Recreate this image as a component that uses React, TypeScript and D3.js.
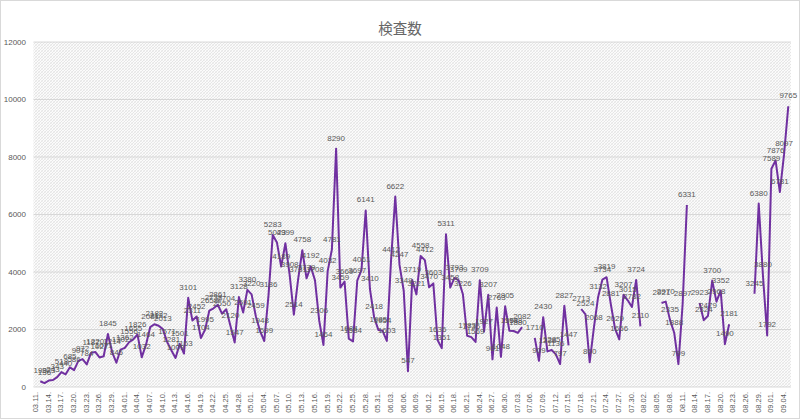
import React, { useEffect, useRef } from "react";
import * as d3 from "d3";

const title = "検査数";

// daily categories 03.11 .. 09.04
const dates = d3
	.timeDay.range(new Date(2020, 2, 11), new Date(2020, 8, 5))
	.map((d) => d3.timeFormat("%m.%d.")(d));

const values: (number | null)[] = [
	199, 136, 223, 243, 343, 518, 440, 685, 586, 907,
	972, 784, 1187, 1220, 1027, 1071, 1845, 1214, 845, 1302,
	1362, 1556, 1655, 1826, 1032, 1464, 2081, 2182, 2132, 2013,
	1571, 1281, 1009, 1501, 1163, 3101, 2311, 2452, 1704, 1995,
	2658, 2738, 2861, 2550, 2704, 2120, 1547, 3128, 2591, 3380,
	3220, 2459, 1948, 1599, 3186, 5283, 5023, 4189, 4999, 3908,
	2514, 3731, 4758, 3779, 4192, 3708, 2306, 1464, 4032, 4781,
	8290, 3459, 3669, 1684, 1584, 3697, 4061, 6141, 3410, 2418,
	1985, 1954, 1603, 4412, 6622, 4247, 3349, 547, 3719, 3221,
	4558, 4412, 3470, 3603, 1636, 1351, 5311, 3458, 3793, 3709,
	3226, 1783, 1736, 1569, 3709, 1927, 3207, 961, 2763, 1048,
	2805, 1958, 1948, 1880, 2082, null, null, 1710, 909, 2430,
	1238, 1285, 1136, 797, 2827, 1447, null, null, 2713, 2524,
	860, 2068, 3132, 3734, 3819, 2881, 2029, 1656, 3207, 3015,
	2782, 3724, 2110, null, null, null, null, 2921, 2970, 2335,
	1888, 799, 2897, 6331, null, null, 2923, 2324, 2479, 3700,
	2968, 3352, 1490, 2181, null, null, null, null, null, 3245,
	6380, 3880, 1792, 7589, 7876, 6781, 8097, 9765,
];

const yTicks = [0, 2000, 4000, 6000, 8000, 10000, 12000];

const W = 800;
const H = 419;
const textColor = "#595959";
const lineColor = "#7030A0";
const font = "'Liberation Sans', Arial, sans-serif";

function App() {
	const svgRef = useRef<SVGSVGElement>(null);

	useEffect(() => {
		const svg = d3.select(svgRef.current);
		svg.selectAll("*").remove();

		const plot = { left: 33.5, right: 791, top: 42, bottom: 387 };

		const x = d3
			.scalePoint<number>()
			.domain(values.map((_, i) => i))
			.range([40.3, 788.3]);

		const y = d3
			.scaleLinear()
			.domain([0, 12000])
			.range([plot.bottom, plot.top]);

		// hatch pattern for plot background
		const defs = svg.append("defs");
		const pat = defs
			.append("pattern")
			.attr("id", "hatch")
			.attr("width", 3)
			.attr("height", 3)
			.attr("patternUnits", "userSpaceOnUse");
		pat.append("rect").attr("width", 3).attr("height", 3).attr("fill", "#fbfbfb");
		pat
			.append("path")
			.attr("d", "M0,3L3,0M-1,1L1,-1M2,4L4,2")
			.attr("stroke", "#d8d8d8")
			.attr("stroke-width", 0.6);
		pat
			.append("path")
			.attr("d", "M0,0L3,3M-1,2L1,4M2,-1L4,1")
			.attr("stroke", "#e4e4e4")
			.attr("stroke-width", 0.5);

		// chart border
		svg
			.append("rect")
			.attr("x", 0.5)
			.attr("y", 0.5)
			.attr("width", W - 1)
			.attr("height", H - 1)
			.attr("fill", "#fff")
			.attr("stroke", "#d9d9d9");

		svg
			.append("text")
			.attr("x", W / 2)
			.attr("y", 34)
			.attr("text-anchor", "middle")
			.style("font-family", "'Noto Sans CJK JP', sans-serif")
			.style("font-size", "14.5px")
			.style("fill", "#666")
			.text(title);

		svg
			.append("rect")
			.attr("x", plot.left)
			.attr("y", plot.top)
			.attr("width", plot.right - plot.left)
			.attr("height", plot.bottom - plot.top)
			.attr("fill", "url(#hatch)");

		// gridlines
		svg
			.append("g")
			.selectAll("line")
			.data(yTicks)
			.enter()
			.append("line")
			.attr("x1", plot.left)
			.attr("x2", plot.right)
			.attr("y1", (d) => y(d))
			.attr("y2", (d) => y(d))
			.attr("stroke", "#d0d0d0")
			.attr("stroke-width", 0.8);

		// y labels
		svg
			.append("g")
			.selectAll("text")
			.data(yTicks)
			.enter()
			.append("text")
			.attr("x", 26)
			.attr("y", (d) => y(d))
			.attr("dy", "0.35em")
			.attr("text-anchor", "end")
			.style("font-family", font)
			.style("font-size", "8px")
			.style("fill", textColor)
			.text((d) => d);

		// x labels, every 3rd day
		svg
			.append("g")
			.selectAll("text")
			.data(dates.map((d, i) => ({ d, i })).filter((o) => o.i % 3 === 0))
			.enter()
			.append("text")
			.attr("transform", (o) => `translate(${x(o.i)! - 5},392) rotate(-90)`)
			.attr("dy", "0.35em")
			.attr("text-anchor", "end")
			.style("font-family", font)
			.style("font-size", "7.5px")
			.style("fill", textColor)
			.text((o) => o.d);

		const line = d3
			.line<number | null>()
			.defined((d) => d != null)
			.x((_, i) => x(i)!)
			.y((d) => y(d as number));

		svg
			.append("path")
			.datum(values)
			.attr("d", line)
			.attr("fill", "none")
			.attr("stroke", lineColor)
			.attr("stroke-width", 2)
			.attr("stroke-linejoin", "round");

		// data labels
		svg
			.append("g")
			.selectAll("text")
			.data(values.map((v, i) => ({ v, i })).filter((o) => o.v != null))
			.enter()
			.append("text")
			.attr("x", (o) => x(o.i)!)
			.attr("y", (o) => y(o.v as number) - 8)
			.attr("text-anchor", "middle")
			.style("font-family", font)
			.style("font-size", "8px")
			.style("fill", textColor)
			.text((o) => o.v as number);
	}, []);

	return (
		<div style={{ position: "absolute", left: 0, top: 0 }}>
			<svg ref={svgRef} width={W} height={H} style={{ display: "block" }}></svg>
		</div>
	);
}

export default App;
